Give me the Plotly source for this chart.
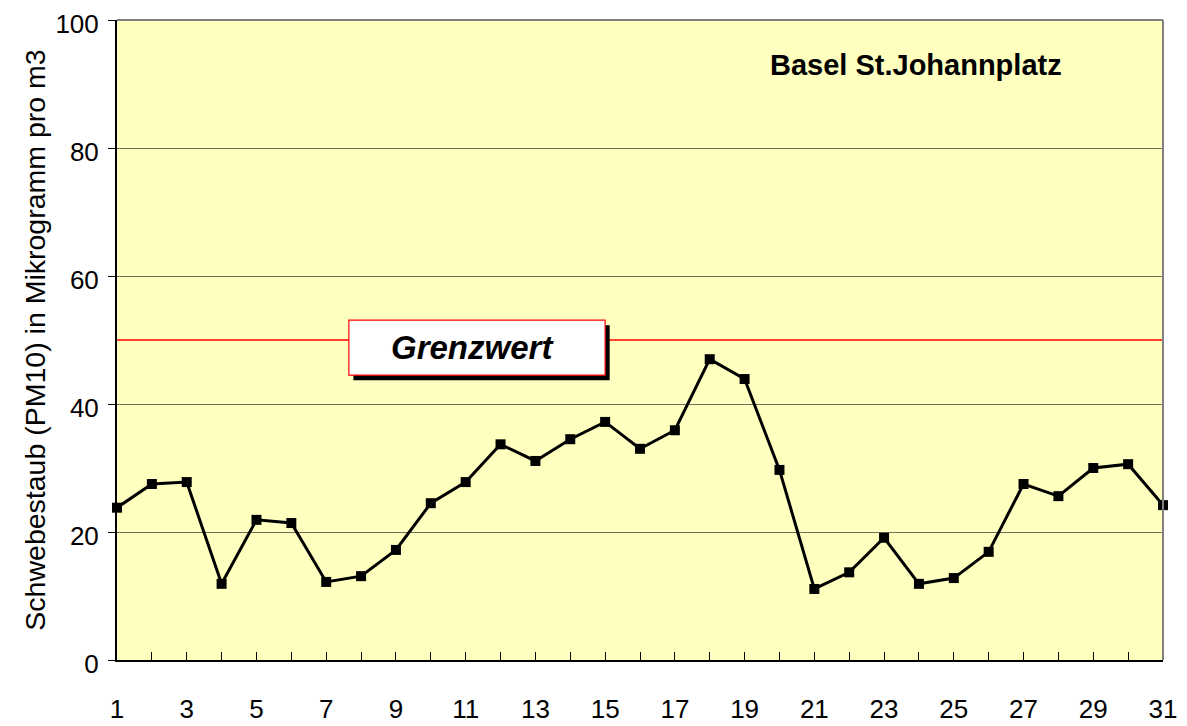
import plotly.graph_objects as go

days = list(range(1, 32))
pm10 = [23.8, 27.5, 27.8, 11.9, 21.9, 21.4, 12.2, 13.1, 17.2, 24.5,
        27.8, 33.7, 31.1, 34.5, 37.2, 33.0, 35.9, 47.0, 43.9, 29.7,
        11.1, 13.7, 19.1, 11.9, 12.8, 16.9, 27.5, 25.6, 30.0, 30.6, 24.2]
limit_value = 50
x_ticktext = [str(d) if d % 2 == 1 else "" for d in days]
y_ticks = [0, 20, 40, 60, 80, 100]
title_text = "Basel St.Johannplatz"
limit_label = "Grenzwert"
y_title = "Schwebestaub (PM10) in Mikrogramm pro m3"

fig = go.Figure()
fig.add_trace(go.Scatter(
    x=days, y=pm10, mode="lines+markers",
    line=dict(color="black", width=3),
    marker=dict(symbol="square", size=10, color="black"),
    cliponaxis=False, showlegend=False,
))

# limit line
fig.add_shape(type="line", xref="x", yref="y", x0=1, x1=31,
              y0=limit_value, y1=limit_value, line=dict(color="#ff0000", width=1.5))
# shadow of label box
fig.add_shape(type="rect", xref="x", yref="y", x0=7.78, x1=15.13, y0=43.7, y1=52.3,
              fillcolor="black", line=dict(width=0))
# label box
fig.add_shape(type="rect", xref="x", yref="y", x0=7.65, x1=15.0, y0=44.5, y1=53.1,
              fillcolor="white", line=dict(color="#ff0000", width=1.2))
fig.add_annotation(x=11.2, y=48.8, xref="x", yref="y", text="<b><i>" + limit_label + "</i></b>",
                   showarrow=False, xanchor="center",
                   font=dict(family="Liberation Sans, Arial", size=33, color="black"))
fig.add_annotation(x=0.764, y=0.93, xref="paper", yref="paper", text="<b>" + title_text + "</b>",
                   showarrow=False, xanchor="center", yanchor="middle",
                   font=dict(family="Liberation Sans, Arial", size=29, color="black"))

# page body has an 8px margin, so the figure is offset by 8px
fig.update_layout(
    width=1179, height=718,
    margin=dict(l=109, r=24, t=12, b=66),
    paper_bgcolor="white", plot_bgcolor="#ffffc0",
    font=dict(family="Liberation Sans, Arial", color="black"),
    xaxis=dict(range=[1, 31], tickvals=days, ticktext=x_ticktext, automargin=False,
               ticks="inside", ticklen=8, tickcolor="black", tickwidth=1,
               showgrid=False, zeroline=False, showline=True, linecolor="black", linewidth=1.5,
               tickfont=dict(size=26), ticklabelstandoff=25, ticklabeloverflow="allow",
               mirror=False),
    yaxis=dict(range=[0, 100], tickvals=y_ticks, ticks="outside", ticklen=7, automargin=False,
               tickcolor="black", showgrid=True, gridcolor="#707060", gridwidth=1,
               zeroline=False, showline=True, linecolor="black", linewidth=2,
               tickfont=dict(size=26), ticklabeloverflow="allow", ticklabelshift=4,
               ticklabelstandoff=4,
               title=dict(text=y_title, font=dict(size=28.5), standoff=1)),
)
# top and right border
fig.add_shape(type="line", xref="paper", yref="paper", x0=0, x1=1, y0=1, y1=1,
              line=dict(color="#808080", width=2))
fig.add_shape(type="line", xref="paper", yref="paper", x0=1, x1=1, y0=0, y1=1,
              line=dict(color="#808080", width=2))

fig.write_html("out.html")
